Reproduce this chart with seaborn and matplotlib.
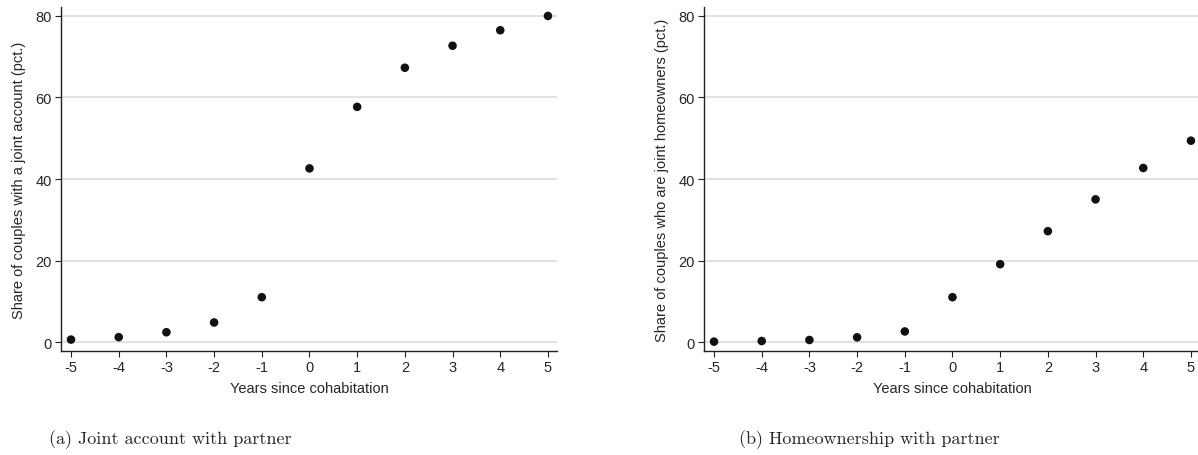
import pandas as pd
import seaborn as sns
import matplotlib.pyplot as plt

# data
years = [-5, -4, -3, -2, -1, 0, 1, 2, 3, 4, 5]
joint_account = [0.6, 1.2, 2.4, 4.8, 11.0, 42.6, 57.7, 67.3, 72.7, 76.5, 80.0]
joint_home = [0.1, 0.25, 0.5, 1.15, 2.6, 11.0, 19.1, 27.2, 35.0, 42.7, 49.4]

yticks = [0, 20, 40, 60, 80]
xlabel = "Years since cohabitation"
ylabels = ["Share of couples with a joint account (pct.)",
           "Share of couples who are joint homeowners (pct.)"]
captions = ["(a) Joint account with partner", "(b) Homeownership with partner"]

sns.set_theme(style="white")
plt.rcParams['font.family'] = ['Liberation Sans', 'DejaVu Sans']
plt.rcParams['axes.unicode_minus'] = False

df = pd.DataFrame({"year": years, "account": joint_account, "home": joint_home})

fig = plt.figure(figsize=(11.98, 4.56), dpi=100)
ax1 = fig.add_axes([61 / 1198, 104 / 456, 496 / 1198, 344 / 456])
ax2 = fig.add_axes([704 / 1198, 104 / 456, 496 / 1198, 344 / 456])

for ax, col, ylab in zip([ax1, ax2], ["account", "home"], ylabels):
    ax.yaxis.grid(True, color="#dedede", linewidth=1.3, zorder=0)
    ax.set_axisbelow(True)
    sns.scatterplot(data=df, x="year", y=col, ax=ax, color="#111111",
                    s=38, edgecolor="none", zorder=3)
    ax.set_xlim(-5.21, 5.19)
    ax.set_ylim(-2.2, 82.2)
    ax.set_xticks(years)
    ax.set_yticks(yticks)
    ax.set_xlabel(xlabel, fontsize=10.5, labelpad=5)
    ax.set_ylabel(ylab, fontsize=10.5, labelpad=7)
    ax.tick_params(axis="both", which="both", direction="out", length=4.5,
                   width=0.8, color="#222222", labelsize=10.5, pad=2,
                   left=True, bottom=True)
    for side in ["top", "right"]:
        ax.spines[side].set_visible(False)
    for side in ["left", "bottom"]:
        ax.spines[side].set_color("#222222")
        ax.spines[side].set_linewidth(1.0)

# subfigure captions
fig.text(170 / 1198, 1 - 440 / 456, captions[0], family="cmr10",
         fontsize=13, ha="center", va="center")
fig.text(869 / 1198, 1 - 440 / 456, captions[1], family="cmr10",
         fontsize=13, ha="center", va="center")

fig.savefig("out.png", dpi=100)
